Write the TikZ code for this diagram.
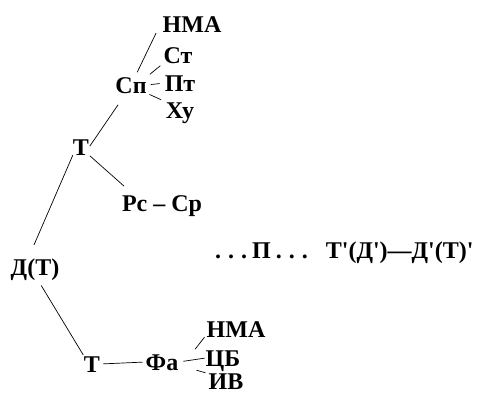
\documentclass[tikz,border=0pt]{standalone}
\usepackage{fontspec}
\setmainfont{Liberation Serif}[BoldFont={Liberation Serif Bold}]
\newcommand{\qs}{\textquotesingle}
\newcommand{\dts}{.\kern7pt.\kern7pt.}
\usetikzlibrary{positioning}

\begin{document}
\begin{tikzpicture}[
    x=1pt, y=-1pt,
    lbl/.style={
      font=\fontsize{24}{28}\selectfont\rmfamily\bfseries,
      inner sep=0pt,
      text height=16pt,
      text depth=0pt
    },
    link/.style={line width=0.7pt}
  ]
  \useasboundingbox (0,0) rectangle (481,394);

  % upper branch
  \node[lbl] (nmaUp) at (192,24) {НМА};
  \node[lbl] (st) at (178,55) {Ст};
  \node[lbl] (pt) at (180,83) {Пт};
  \node[lbl] (xu) at (180,110) {Ху};
  \node[lbl] (sp) at (131,85) {Сп};
  \node[lbl] (tUp) at (81,147) {Т};
  \node[lbl] (rs) at (162,203) {Рс -- Ср};

  % root and far chain
  \node[lbl] (dt) at (35,267) {Д(Т)};
  \node[lbl, anchor=west] (chain) at (215,250)
    {\dts\kern5pt П\kern5pt\dts\kern18pt Т\qs(Д\qs)---Д\qs(Т)\qs};

  % lower branch
  \node[lbl] (tLow) at (92,364) {Т};
  \node[lbl] (fa) at (162,362) {Фа};
  \node[lbl] (nmaLow) at (236,329) {НМА};
  \node[lbl] (cb) at (223,358) {ЦБ};
  \node[lbl] (iv) at (226,381) {ИВ};

  \draw[link, shorten <=5pt, shorten >=1pt] ([xshift=4pt]sp.north) -- ([xshift=-6pt]nmaUp.south west);
  \draw[link, shorten <=4pt, shorten >=4pt] (sp.north east) -- (st.south west);
  \draw[link, shorten <=4pt, shorten >=5pt] (sp.east) -- (pt.west);
  \draw[link, shorten <=3pt, shorten >=5pt] (sp.south east) -- (xu.north west);
  \draw[link, shorten <=1pt, shorten >=14pt] (tUp.east) -- ([xshift=-5pt]sp.south);
  \draw[link, shorten <=1pt, shorten >=13pt] (tUp.south east) -- ([xshift=12pt]rs.north west);
  \draw[link, shorten >=15pt] (tUp.south west) -- ([xshift=-7pt]dt.north);
  \draw[link, shorten <=12pt, shorten >=1pt] (dt.south) -- (tLow.north west);
  \draw[link, shorten <=3pt, shorten >=3pt] (tLow.east) -- (fa.west);
  \draw[link, shorten <=6pt] ([xshift=13pt]fa.north east) -- ([xshift=-2pt]nmaLow.south west);
  \draw[link, shorten <=5pt, shorten >=1pt] (fa.east) -- (cb.west);
  \draw[link] ([xshift=18pt]fa.south east) -- ([xshift=-3pt]iv.north west);
\end{tikzpicture}
\end{document}
